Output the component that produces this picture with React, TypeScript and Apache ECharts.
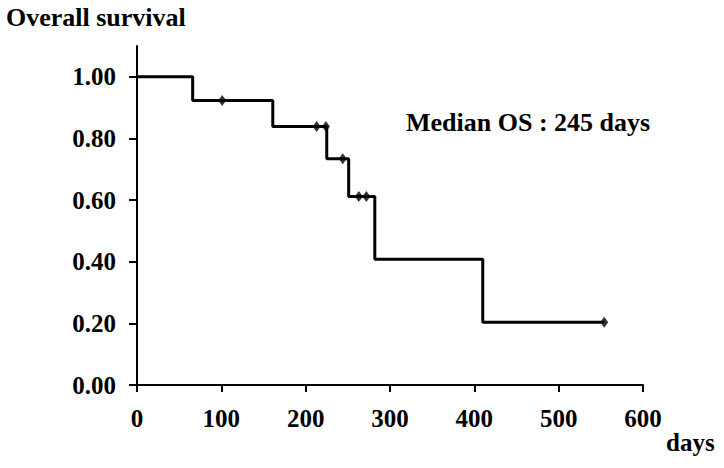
import React, { useEffect, useRef } from "react";
import * as echarts from "echarts";

// Kaplan-Meier steps: time (days) at which survival changes, and survival after that time
const eventDays = [0, 66, 161, 225, 251, 282, 410, 554];
const survival = [1.0, 0.923, 0.839, 0.734, 0.612, 0.408, 0.204, 0.204];
// Censored observations
const censorDays = [101, 213, 224, 244, 263, 272, 554];
const censorSurvival = [0.923, 0.839, 0.839, 0.734, 0.612, 0.612, 0.204];
// Axis ticks
const xTicks = [0, 100, 200, 300, 400, 500, 600];
const yTicks = [0, 0.2, 0.4, 0.6, 0.8, 1.0];

const FONT = "'Liberation Serif', 'Times New Roman', serif";

export default function App() {
  const ref = useRef<HTMLDivElement>(null);
  useEffect(() => {
    if (!ref.current) return;
    const chart = echarts.init(ref.current, null, { renderer: "svg" });
    const stepData = eventDays.map((d, i) => [d, survival[i]]);
    const censorData = censorDays.map((d, i) => [d, censorSurvival[i]]);
    chart.setOption({
      animation: false,
      backgroundColor: "#ffffff",
      title: {
        text: "Overall survival",
        left: 6,
        top: 4,
        padding: 0,
        textStyle: { fontFamily: FONT, fontWeight: "bold", fontSize: 26, color: "#000" },
      },
      grid: { left: 137, right: 81, top: 46, bottom: 83, containLabel: false },
      xAxis: {
        type: "value",
        min: 0,
        max: 600,
        interval: 100,
        axisLine: { show: true, onZero: false, lineStyle: { color: "#000", width: 2 } },
        axisTick: { show: true, length: 7, lineStyle: { color: "#000", width: 2 }, customValues: xTicks },
        axisLabel: {
          margin: 21,
          fontFamily: FONT,
          fontWeight: "bold",
          fontSize: 25,
          color: "#000",
          customValues: xTicks,
        },
        splitLine: { show: false },
      },
      yAxis: {
        type: "value",
        min: 0,
        max: 1.1,
        axisLine: { show: true, onZero: false, lineStyle: { color: "#000", width: 2 } },
        axisTick: { show: true, length: 8, lineStyle: { color: "#000", width: 2 }, customValues: yTicks },
        axisLabel: {
          margin: 21,
          fontFamily: FONT,
          fontWeight: "bold",
          fontSize: 25,
          color: "#000",
          customValues: yTicks,
          formatter: (v: number) => v.toFixed(2),
        },
        splitLine: { show: false },
      },
      graphic: [
        {
          type: "text",
          left: 406,
          top: 109,
          style: {
            text: "Median OS : 245 days",
            fontFamily: FONT,
            fontWeight: "bold",
            fontSize: 26,
            fill: "#000",
          },
        },
        {
          type: "text",
          left: 666,
          top: 430,
          style: {
            text: "days",
            fontFamily: FONT,
            fontWeight: "bold",
            fontSize: 25,
            fill: "#000",
          },
        },
      ],
      series: [
        {
          type: "line",
          step: "end",
          data: stepData,
          showSymbol: false,
          symbol: "none",
          lineStyle: { color: "#000", width: 3 },
          z: 2,
        },
        {
          type: "scatter",
          data: censorData,
          symbol: "diamond",
          symbolSize: [8, 11],
          itemStyle: { color: "#000" },
          z: 3,
        },
      ],
    });
    return () => chart.dispose();
  }, []);
  return (
    <div
      ref={ref}
      style={{ position: "absolute", left: 0, top: 0, width: 724, height: 468, background: "#fff" }}
    />
  );
}
